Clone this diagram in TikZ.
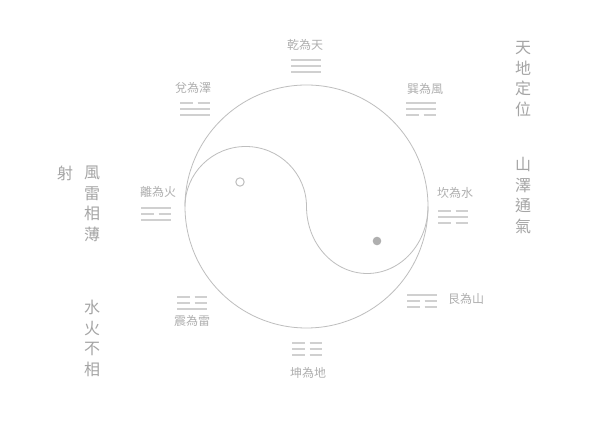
\documentclass[tikz,border=0pt]{standalone}
\usepackage{fontspec}
\newfontfamily\cjk{Noto Sans CJK TC}
\definecolor{yaocol}{RGB}{208,208,208}
\definecolor{lblcol}{RGB}{175,175,175}
\definecolor{txtcol}{RGB}{165,165,165}
\definecolor{ringcol}{RGB}{190,190,190}
\definecolor{dotcol}{RGB}{175,175,175}
\newcommand\yao[3]{\ifnum#3=1\relax
  \draw[yaoline] ({#1-15},#2) -- ({#1+15},#2);%
  \else
  \draw[yaoline] ({#1-15},#2) -- ({#1-2.5},#2) ({#1+2.5},#2) -- ({#1+15},#2);%
  \fi}
\newcommand\trig[5]{\yao{#1}{#2}{#3}\yao{#1}{#2-6}{#4}\yao{#1}{#2-12}{#5}}
\begin{document}
\begin{tikzpicture}[x=1pt,y=1pt,
  yaoline/.style={draw=yaocol,line width=1.5pt},
  lbl/.style={text=lblcol,font=\cjk\fontsize{12}{14}\selectfont,inner sep=0pt},
  vcol/.style={text=txtcol,font=\cjk\fontsize{16}{20.5}\selectfont,align=center,inner sep=0pt},
  ring/.style={draw=ringcol,line width=0.8pt}]
\useasboundingbox[fill=white] (0,0) rectangle (600,425);
% yin-yang
\draw[ring] (306.5,218.5) circle (121.5);
\draw[ring] (185,218.5) arc[start angle=180,end angle=0,x radius=60.75,y radius=60]
  arc[start angle=180,end angle=360,x radius=60.75,y radius=67];
\draw[ring,line width=1pt] (240,243) circle (4.2);
\fill[dotcol] (377,184) circle (4.3);
% trigrams
\trig{306}{365}{1}{1}{1}
\trig{195}{322}{0}{1}{1}
\trig{421}{322}{1}{1}{0}
\trig{156}{217}{1}{0}{1}
\trig{453}{214}{0}{1}{0}
\trig{192}{128}{0}{0}{1}
\trig{422}{130}{1}{0}{0}
\trig{307}{82}{0}{0}{0}
% labels
\node[lbl] (qian) at (305,380) {乾為天};
\node[lbl] (dui) at (193,337) {兌為澤};
\node[lbl] (xun) at (425,336) {巽為風};
\node[lbl] (li) at (158,233) {離為火};
\node[lbl] (kan) at (455,232) {坎為水};
\node[lbl] (zhen) at (192,104) {震為雷};
\node[lbl] (gen) at (466,126) {艮為山};
\node[lbl] (kun) at (308,52) {坤為地};
% vertical texts
\node[vcol] (r1) at (523,346) {天\\地\\定\\位};
\node[vcol] (r2) at (523,229.5) {山\\澤\\通\\氣};
\node[vcol] (l0) at (65,252) {射};
\node[vcol] (l1) at (92,221) {風\\雷\\相\\薄};
\node[vcol] (l2) at (92,86.5) {水\\火\\不\\相};
\end{tikzpicture}
\end{document}
